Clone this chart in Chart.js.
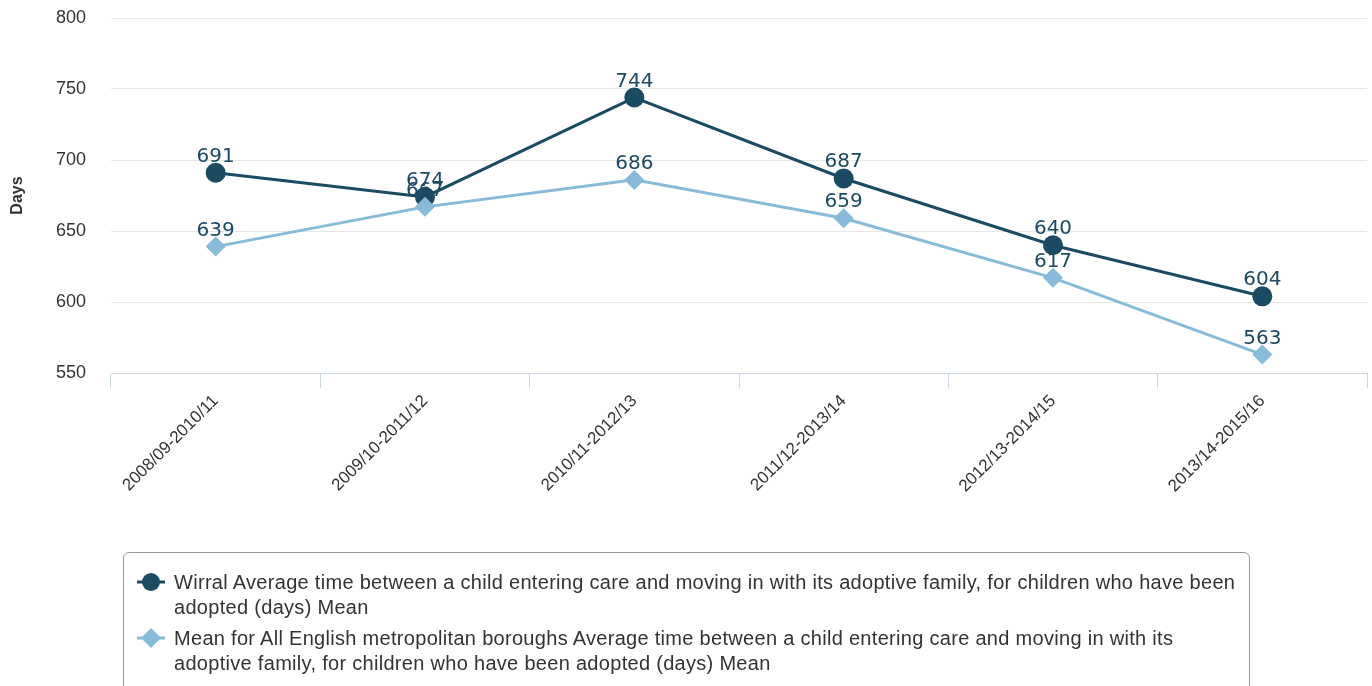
<!DOCTYPE html>
<html><head><meta charset="utf-8">
<script src="https://cdn.jsdelivr.net/npm/chart.js@4/dist/chart.umd.min.js"></script>
<style>
html,body{margin:0;padding:0;background:#fff;}
#wrap{position:relative;width:1372px;height:686px;overflow:hidden;}
#legend{position:absolute;left:123px;top:552px;width:1127px;height:170px;border:1px solid #999;border-radius:6px;font-family:"Liberation Sans",Arial,sans-serif;font-size:20px;letter-spacing:0.3px;color:#333;box-sizing:border-box;}
.item{position:absolute;left:50px;width:1070px;line-height:25px;}
.item svg{position:absolute;left:-37px;top:2px;}
</style></head>
<body>
<div id="wrap">
<canvas id="c" width="1372" height="686"></canvas>
<div id="legend"></div>
</div>
<script>
const categories = ["2008/09-2010/11","2009/10-2011/12","2010/11-2012/13","2011/12-2013/14","2012/13-2014/15","2013/14-2015/16"];
const wirral = [691,674,744,687,640,604];
const metMean = [639,667,686,659,617,563];
const seriesNames = [
 "Wirral Average time between a child entering care and moving in with its adoptive family, for children who have been adopted (days) Mean",
 "Mean for All English metropolitan boroughs Average time between a child entering care and moving in with its adoptive family, for children who have been adopted (days) Mean"
];
const yMin = 550, yMax = 800, yStep = 50;
const darkColor = '#1b4a63';
const lightColor = '#87bbd9';

const valueLabels = {
  id:'valueLabels',
  afterDatasetsDraw(chart){
    const ctx = chart.ctx;
    ctx.save();
    ctx.font = '20px "DejaVu Sans"';
    ctx.fillStyle = '#1b4a63';
    ctx.textAlign = 'center';
    ctx.textBaseline = 'alphabetic';
    chart.data.datasets.forEach((ds,i)=>{
      const meta = chart.getDatasetMeta(i);
      meta.data.forEach((pt,j)=>{
        ctx.fillText(String(ds.data[j]), pt.x, pt.y - 11);
      });
    });
    ctx.restore();
  }
};

new Chart(document.getElementById('c'), {
  type:'line',
  data:{
    labels: categories,
    datasets:[
      {label:seriesNames[0], data:wirral, borderColor:darkColor, backgroundColor:darkColor, borderWidth:3,
       pointStyle:'circle', pointRadius:10, pointBorderWidth:0, tension:0, order:1},
      {label:seriesNames[1], data:metMean, borderColor:lightColor, backgroundColor:lightColor, borderWidth:3,
       pointStyle:'rectRot', pointRadius:10, pointBorderWidth:0, tension:0, order:0}
    ]
  },
  options:{
    responsive:false, animation:false,
    layout:{autoPadding:false, padding:{top:18,right:5,left:0,bottom:0}},
    plugins:{legend:{display:false}, tooltip:{enabled:false}},
    scales:{
      x:{
        offset:true,
        grid:{offset:true, drawOnChartArea:false, drawTicks:true, tickLength:15, color:'#ccd6eb', lineWidth:1},
        border:{color:'#ccd6eb', width:1},
        ticks:{maxRotation:45, minRotation:45, autoSkip:false, padding:3, color:'#333', font:{family:'"Liberation Sans", Arial, sans-serif', size:17}},
        afterFit(s){ s.height = 313; s.paddingTop = 0; s.paddingBottom = 0; s.paddingLeft = 0; s.paddingRight = 0; }
      },
      y:{
        min:yMin, max:yMax,
        ticks:{stepSize:yStep, padding:25, color:'#333', font:{family:'"Liberation Sans", Arial, sans-serif', size:18}},
        grid:{color:'#e6e6e6', drawTicks:false, lineWidth:1},
        border:{display:false},
        title:{display:true, text:'Days', color:'#333', font:{family:'"Liberation Sans", Arial, sans-serif', size:16, weight:'bold'}, padding:{top:8,bottom:0}},
        afterFit(s){ s.width = 111; s.paddingTop = 0; s.paddingBottom = 0; }
      }
    }
  },
  plugins:[valueLabels]
});

// HTML legend
const legend = document.getElementById('legend');
const icons = [
  `<svg width="30" height="20"><line x1="0" y1="10" x2="28" y2="10" stroke="${darkColor}" stroke-width="3"/><circle cx="14" cy="10" r="9" fill="${darkColor}"/></svg>`,
  `<svg width="30" height="20"><line x1="0" y1="10" x2="28" y2="10" stroke="${lightColor}" stroke-width="3"/><polygon points="14,0 24,10 14,20 4,10" fill="${lightColor}"/></svg>`
];
const tops = [17, 73];
seriesNames.forEach((n,i)=>{
  const d = document.createElement('div');
  d.className = 'item';
  d.style.top = tops[i] + 'px';
  d.innerHTML = icons[i] + n;
  legend.appendChild(d);
});
</script>
</body></html>
